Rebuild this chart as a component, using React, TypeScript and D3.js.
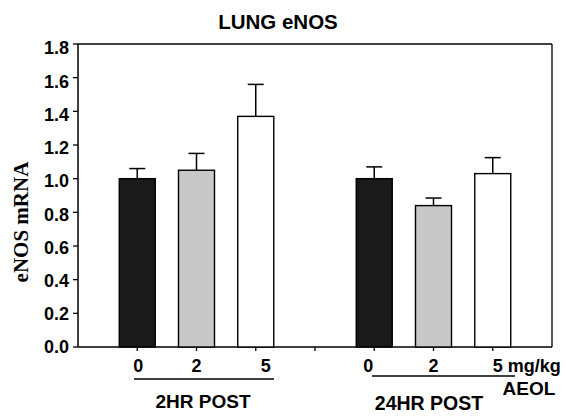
import React from "react";
import * as d3 from "d3";

// slots along x: empty ends and a gap between the two time groups
const slots = ["start", "2h-0", "2h-2", "2h-5", "gap", "24h-0", "24h-2", "24h-5", "end"];
const barSlots = ["2h-0", "2h-2", "2h-5", "24h-0", "24h-2", "24h-5"];
const means = [1.0, 1.05, 1.37, 1.0, 0.84, 1.03];
const sems = [0.06, 0.1, 0.19, 0.07, 0.045, 0.095];
const doses = ["0", "2", "5", "0", "2", "5 mg/kg"];
const fills = ["#1a1a1a", "#c8c8c8", "#ffffff", "#1a1a1a", "#c8c8c8", "#ffffff"];
const yTicks = [0, 0.2, 0.4, 0.6, 0.8, 1.0, 1.2, 1.4, 1.6, 1.8];
const groups = ["2HR POST", "24HR POST"];

const W = 566;
const H = 417;
const sans = "'Liberation Sans', Arial, sans-serif";

export default function App() {
  const x = d3.scalePoint<string>().domain(slots).range([78, 552]);
  const y = d3.scaleLinear().domain([0, 1.8]).range([347, 44]);
  const barW = 36;
  // hand-placed label nudges seen in the figure
  const labelDx = [1, 0, 10, -6, 0, 0];

  return (
    <div style={{ position: "absolute", left: 0, top: 0 }}>
      <svg width={W} height={H} style={{ display: "block", background: "#fff" }}>
        <text x={278} y={28.5} textAnchor="middle" fontFamily={sans} fontWeight="bold" fontSize={20.5}>
          LUNG eNOS
        </text>

        {/* frame */}
        <line x1={78} x2={552} y1={y(1.8)} y2={y(1.8)} stroke="#000" strokeWidth={1.3} />
        <line x1={552} x2={552} y1={y(1.8)} y2={y(0)} stroke="#000" strokeWidth={1.3} />
        <line x1={78} x2={552} y1={y(0)} y2={y(0)} stroke="#000" strokeWidth={1.5} />
        <line x1={78} x2={78} y1={y(1.8)} y2={y(0)} stroke="#000" strokeWidth={1.5} />

        {yTicks.map((t) => (
          <g key={t}>
            <line x1={73} x2={78} y1={y(t)} y2={y(t)} stroke="#000" strokeWidth={1.3} />
            <text
              x={69}
              y={y(t) + (t / 1.8) * 4}
              dy="0.36em"
              textAnchor="end"
              fontFamily={sans}
              fontWeight="bold"
              fontSize={18}
            >
              {t.toFixed(1)}
            </text>
          </g>
        ))}

        {slots.slice(1, -1).map((s) => (
          <line key={s} x1={x(s)} x2={x(s)} y1={y(0)} y2={y(0) + 4} stroke="#000" strokeWidth={1.3} />
        ))}

        {barSlots.map((s, i) => {
          const cx = x(s) as number;
          const top = y(means[i]);
          const errTop = y(means[i] + sems[i]);
          return (
            <g key={s}>
              <line x1={cx} x2={cx} y1={top} y2={errTop} stroke="#000" strokeWidth={1.5} />
              <line x1={cx - 8} x2={cx + 8} y1={errTop} y2={errTop} stroke="#000" strokeWidth={1.5} />
              <rect
                x={cx - barW / 2}
                y={top}
                width={barW}
                height={y(0) - top}
                fill={fills[i]}
                stroke="#000"
                strokeWidth={1.4}
              />
              <text
                x={cx + labelDx[i]}
                y={372}
                textAnchor={i === 5 ? "start" : "middle"}
                fontFamily={sans}
                fontWeight="bold"
                fontSize={18}
              >
                {doses[i]}
              </text>
            </g>
          );
        })}

        <text x={529} y={395} textAnchor="middle" fontFamily={sans} fontWeight="bold" fontSize={19}>
          AEOL
        </text>

        <line x1={134} x2={274} y1={379} y2={379} stroke="#000" strokeWidth={1.5} />
        <line x1={372} x2={515} y1={376} y2={376} stroke="#000" strokeWidth={1.5} />
        <text x={203} y={408} textAnchor="middle" fontFamily={sans} fontWeight="bold" fontSize={19}>
          {groups[0]}
        </text>
        <text x={429} y={410} textAnchor="middle" fontFamily={sans} fontWeight="bold" fontSize={19.5}>
          {groups[1]}
        </text>

        <text
          transform="translate(28,222) rotate(-90)"
          textAnchor="middle"
          fontFamily="'Liberation Serif', 'Times New Roman', serif"
          fontWeight="bold"
          fontSize={21}
        >
          eNOS mRNA
        </text>
      </svg>
    </div>
  );
}
